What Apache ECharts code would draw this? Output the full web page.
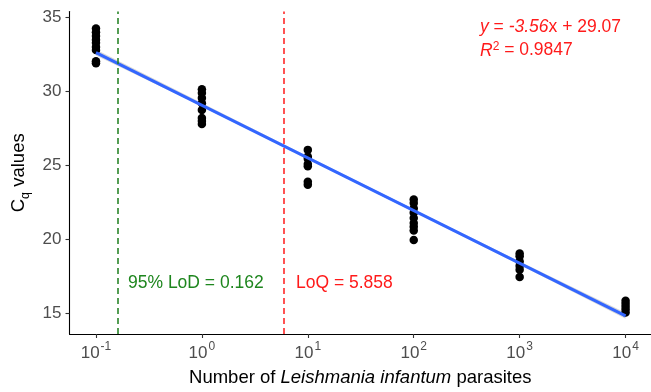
<!DOCTYPE html>
<html><head><meta charset="utf-8">
<script src="https://cdn.jsdelivr.net/npm/echarts@6/dist/echarts.min.js"></script>
<style>html,body{margin:0;padding:0;background:#fff}#c{width:651px;height:392px}</style>
</head><body><div id="c"></div>
<script>
// log10 of parasite number for each dilution level
const levels = [-1, 0, 1, 2, 3, 4];
// Cq values read per level
const cqLm1 = [34.25, 34.0, 33.75, 33.5, 33.3, 33.0, 32.8, 32.05, 31.9];
const cq0 = [30.15, 29.9, 29.55, 29.2, 28.75, 28.2, 28.0, 27.8];
const cq1 = [26.05, 25.6, 25.45, 25.1, 24.95, 23.9, 23.7];
const cq2 = [22.7, 22.45, 22.1, 21.8, 21.45, 21.1, 20.85, 20.6, 19.95];
const cq3 = [19.05, 18.85, 18.5, 18.2, 17.95, 17.45];
const cq4 = [15.85, 15.65, 15.45, 15.25, 15.05];
const cqByLevel = [cqLm1, cq0, cq1, cq2, cq3, cq4];
// regression line endpoints (x = log10 parasites)
const fitX = [-1, 4];
const fitY = [32.63, 14.83];
// confidence band
const bandX = [-1, 0, 1, 2, 3, 4];
const bandLow = [32.43, 29.00, 25.42, 21.86, 18.28, 14.63];
const bandHigh = [32.83, 29.22, 25.60, 22.04, 18.50, 15.03];
// limits
const lodValue = 0.162;
const loqValue = 5.858;
const xTicks = [-1, 0, 1, 2, 3, 4];
const yTicks = [15, 20, 25, 30, 35];

const FONT = 'Liberation Sans';
const points = [];
levels.forEach((lv, i) => cqByLevel[i].forEach(v => points.push([lv, v])));

const chart = echarts.init(document.getElementById('c'));
chart.setOption({
  animation: false,
  textStyle: {fontFamily: FONT},
  grid: {left: 69.5, right: 0, top: 11.6, bottom: 57.7},
  xAxis: {
    type: 'value', min: -1.25, max: 4.24,
    splitLine: {show: false},
    axisLine: {onZero: false, lineStyle: {color: '#000', width: 1.1}},
    axisTick: {show: true, customValues: xTicks, length: 4, lineStyle: {color: '#333', width: 1.1}},
    axisLabel: {
      customValues: xTicks, margin: 7, color: '#4d4d4d',
      formatter: v => '{b|10}{s|' + v + '}',
      rich: {
        b: {fontSize: 17, color: '#4d4d4d', fontFamily: FONT, verticalAlign: 'bottom'},
        s: {fontSize: 12, color: '#4d4d4d', fontFamily: FONT, verticalAlign: 'bottom', padding: [0, 0, 9, 1]}
      }
    },
    name: '{n|Number of }{i|Leishmania infantum}{n| parasites}',
    nameLocation: 'middle', nameGap: 34,
    nameTextStyle: {
      rich: {
        n: {fontSize: 18.5, color: '#000', fontFamily: FONT},
        i: {fontSize: 18.5, color: '#000', fontFamily: FONT, fontStyle: 'italic'}
      }
    }
  },
  yAxis: {
    type: 'value', min: 13.6, max: 35.4,
    splitLine: {show: false},
    axisLine: {show: true, onZero: false, lineStyle: {color: '#000', width: 1.1}},
    axisTick: {show: true, customValues: yTicks, length: 4, lineStyle: {color: '#333', width: 1.1}},
    axisLabel: {customValues: yTicks, margin: 8, fontSize: 17, color: '#4d4d4d'},
    name: '{c|C}{q|q}{c| values}',
    nameLocation: 'middle', nameGap: 30, nameRotate: 90,
    nameTextStyle: {
      rich: {
        c: {fontSize: 18.5, color: '#000', fontFamily: FONT, verticalAlign: 'top'},
        q: {fontSize: 12.5, color: '#000', fontFamily: FONT, verticalAlign: 'top', padding: [9, 0, 0, 0]}
      }
    }
  },
  series: [
    {
      type: 'custom', z: 1,
      data: [0],
      renderItem: (params, api) => {
        const pts = [];
        for (let i = 0; i < bandX.length; i++) pts.push(api.coord([bandX[i], bandHigh[i]]));
        for (let i = bandX.length - 1; i >= 0; i--) pts.push(api.coord([bandX[i], bandLow[i]]));
        return {type: 'polygon', shape: {points: pts}, style: {fill: 'rgba(153,153,153,0.4)'}};
      },
      silent: true
    },
    {
      type: 'scatter', z: 2, symbolSize: 8.5,
      itemStyle: {color: '#000', opacity: 1},
      data: points
    },
    {
      type: 'line', z: 3, symbol: 'none',
      data: fitX.map((x, i) => [x, fitY[i]]),
      lineStyle: {color: '#3366FF', width: 3},
      markLine: {
        symbol: 'none', silent: true, label: {show: false},
        data: [
          {xAxis: Math.log10(lodValue), lineStyle: {color: '#1b7d1b', type: [6, 4], width: 1.5}},
          {xAxis: Math.log10(loqValue), lineStyle: {color: '#ff1a1a', type: [6, 4], width: 1.5}}
        ]
      }
    }
  ],
  graphic: [
    {type: 'text', left: 128, top: 274, style: {text: '95% LoD = 0.162', fill: '#1e861e', font: '17.5px "Liberation Sans"'}},
    {type: 'text', left: 296, top: 274, style: {text: 'LoQ = 5.858', fill: '#ff1a1a', font: '17.5px "Liberation Sans"'}},
    {type: 'text', left: 480, top: 18, style: {
      text: '{i|y} = {i|-3.56}x + 29.07',
      rich: {i: {fontStyle: 'italic', fontSize: 17.5, fill: '#ff1a1a', fontFamily: FONT}},
      fill: '#ff1a1a', font: '17.5px "Liberation Sans"'}},
    {type: 'text', left: 480, top: 41, style: {
      text: '{i|R}{s|2} = 0.9847',
      rich: {
        i: {fontStyle: 'italic', fontSize: 17.5, fill: '#ff1a1a', fontFamily: FONT, verticalAlign: 'bottom'},
        s: {fontSize: 12, fill: '#ff1a1a', fontFamily: FONT, verticalAlign: 'bottom', padding: [0, 0, 7, 0]}
      },
      fill: '#ff1a1a', font: '17.5px "Liberation Sans"'}}
  ]
});
</script></body></html>
